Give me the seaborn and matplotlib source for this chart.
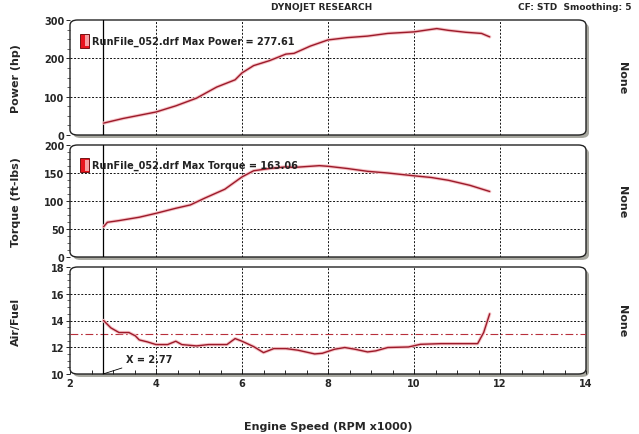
import numpy as np
import pandas as pd
import matplotlib
matplotlib.use("Agg")
import matplotlib.pyplot as plt
import seaborn as sns
from matplotlib.patches import FancyBboxPatch, Rectangle
from matplotlib.ticker import MultipleLocator

# ---------------- data ----------------
power_rpm = [2.78, 3.23, 4.0, 4.46, 4.94, 5.41, 5.84, 6.0, 6.27, 6.64, 7.02, 7.21, 7.59,
             8.0, 8.45, 8.92, 9.39, 10.0, 10.53, 10.8, 11.2, 11.57, 11.76]
power_hp = [31, 43, 60, 76, 96, 125, 144, 162, 181, 194, 211, 213, 232,
            248, 254, 258, 265, 269, 277.6, 273, 268, 265, 256]

torque_rpm = [2.78, 2.87, 3.14, 3.61, 4.0, 4.46, 4.8, 5.13, 5.6, 6.0, 6.27, 6.64, 7.02,
              7.21, 7.8, 8.0, 8.45, 8.92, 9.39, 10.0, 10.4, 10.8, 11.3, 11.76]
torque_ftlb = [54, 62, 65, 71, 78, 87, 93, 105, 121, 143, 154, 158, 161,
               160, 163.1, 162, 158, 153, 150, 145, 142, 137, 128, 117]

afr_rpm = [2.78, 2.95, 3.14, 3.37, 3.52, 3.61, 3.8, 4.0, 4.27, 4.46, 4.6, 4.94, 5.22,
           5.65, 5.84, 6.0, 6.27, 6.5, 6.74, 7.02, 7.3, 7.69, 7.87, 8.15, 8.39, 8.63,
           8.92, 9.11, 9.39, 9.87, 10.15, 10.63, 11.48, 11.62, 11.76]
afr = [14.0, 13.45, 13.1, 13.1, 12.85, 12.55, 12.4, 12.2, 12.2, 12.45, 12.2, 12.1, 12.2,
       12.2, 12.65, 12.45, 12.05, 11.6, 11.9, 11.9, 11.78, 11.5, 11.55, 11.85, 11.98, 11.85,
       11.65, 11.73, 11.98, 12.02, 12.22, 12.27, 12.27, 13.1, 14.5]

afr_target = 13.0
cursor_x = 2.77
max_power = 277.61
max_torque = 163.06

x_ticks = [2, 4, 6, 8, 10, 12, 14]
power_ticks = [0, 100, 200, 300]
torque_ticks = [0, 50, 100, 150, 200]
afr_ticks = [10, 12, 14, 16, 18]

run_name = "RunFile_052.drf"
title = "DYNOJET RESEARCH"
subtitle = "CF: STD  Smoothing: 5"
xlabel = "Engine Speed (RPM x1000)"

# ---------------- style ----------------
sns.set_style("white")
plt.rcParams['font.family'] = ['DejaVu Sans']

W, H = 639, 435
fig = plt.figure(figsize=(W / 100, H / 100), dpi=100)
fig.patch.set_facecolor("white")

def fx(px):
    return px / W

def fy(py):
    return 1 - py / H

left_px, right_px = 70, 586
panels = [(21, 136), (146, 258), (268, 375)]

line_col = "#9c1a2a"
glow_col = "#f6c4c8"
grid_ls = (0, (2, 1.7))

axes = []
for (top, bot) in panels:
    sh = FancyBboxPatch((fx(left_px) + fx(3), fy(bot) - 3 / H),
                        fx(right_px - left_px), (bot - top) / H,
                        boxstyle="round,pad=0,rounding_size=0.012",
                        transform=fig.transFigure, facecolor="#a8a8a0",
                        edgecolor="none", zorder=-2)
    fig.patches.append(sh)
    fr = FancyBboxPatch((fx(left_px), fy(bot)), fx(right_px - left_px), (bot - top) / H,
                        boxstyle="round,pad=0,rounding_size=0.012",
                        transform=fig.transFigure, facecolor="white",
                        edgecolor="#222222", linewidth=1.0, zorder=-1)
    fig.patches.append(fr)
    ax = fig.add_axes([fx(left_px), fy(bot), fx(right_px - left_px), (bot - top) / H])
    ax.set_zorder(1)
    ax.patch.set_alpha(0)
    for s in ax.spines.values():
        s.set_visible(False)
    ax.set_xlim(2, 14)
    axes.append(ax)

ax1, ax2, ax3 = axes

def style_axis(ax, yticks, ylabel, last=False):
    ax.set_ylim(yticks[0], yticks[-1])
    ax.set_yticks(yticks)
    ax.set_yticklabels([str(t) for t in yticks], fontsize=7, fontweight="bold")
    for yv in yticks[1:-1]:
        ax.axhline(yv, color="#111111", linestyle=grid_ls, linewidth=0.7, zorder=1)
    for xv in x_ticks[1:-1]:
        ax.axvline(xv, color="#111111", linestyle=grid_ls, linewidth=0.7, zorder=1)
    ax.axvline(cursor_x, color="black", linewidth=0.9, zorder=2)
    ax.tick_params(axis="y", direction="out", length=3, width=0.7, pad=1, left=True)
    ax.yaxis.set_minor_locator(MultipleLocator((yticks[1] - yticks[0]) / 4))
    ax.tick_params(axis="y", which="minor", direction="out", length=2, width=0.5, left=True)
    ax.set_ylabel(ylabel, fontsize=8, fontweight="bold")
    ax.yaxis.set_label_coords(-0.095, 0.5)
    if last:
        ax.set_xticks(x_ticks)
        ax.set_xticklabels([str(t) for t in x_ticks], fontsize=7, fontweight="bold")
        ax.xaxis.set_minor_locator(MultipleLocator(0.5))
        ax.tick_params(axis="x", which="both", direction="in", length=3, width=0.7,
                       pad=3, bottom=True)
        ax.set_xlabel(xlabel, fontsize=8, fontweight="bold", labelpad=24)
    else:
        ax.set_xticks([])
        ax.set_xlabel("")
    ax.text(1.07, 0.5, "None", transform=ax.transAxes, rotation=270,
            fontsize=8, fontweight="bold", ha="center", va="center")

def draw_curve(ax, xs, ys):
    df = pd.DataFrame({"x": xs, "y": ys})
    sns.lineplot(data=df, x="x", y="y", ax=ax, color=glow_col, linewidth=2.4,
                 sort=False, zorder=3)
    sns.lineplot(data=df, x="x", y="y", ax=ax, color=line_col, linewidth=1.0,
                 sort=False, zorder=4)

draw_curve(ax1, power_rpm, power_hp)
draw_curve(ax2, torque_rpm, torque_ftlb)
draw_curve(ax3, afr_rpm, afr)
ax3.axhline(afr_target, color="#b8303c", linestyle=(0, (7, 2.5, 1.5, 2.5)),
            linewidth=0.8, zorder=2)

style_axis(ax1, power_ticks, "Power (hp)")
style_axis(ax2, torque_ticks, "Torque (ft-lbs)")
style_axis(ax3, afr_ticks, "Air/Fuel", last=True)

for ax, txt in [(ax1, f"{run_name} Max Power = {max_power:.2f}"),
                (ax2, f"{run_name} Max Torque = {max_torque:.2f}")]:
    ax.add_patch(Rectangle((0.019, 0.76), 0.018, 0.12, transform=ax.transAxes,
                           facecolor="#e8141e", edgecolor="#600000", linewidth=0.6,
                           zorder=5))
    ax.add_patch(Rectangle((0.029, 0.77), 0.007, 0.10, transform=ax.transAxes,
                           facecolor="#f7a0a4", edgecolor="none", zorder=6))
    ax.text(0.043, 0.82, txt, transform=ax.transAxes, fontsize=7,
            fontweight="bold", color="#222222", ha="left", va="center", zorder=6)

ax3.annotate(f"X = {cursor_x:.2f}", xy=(cursor_x, 10), xytext=(3.3, 11.1),
             fontsize=7, fontweight="bold", color="#222222", ha="left", va="center",
             arrowprops=dict(arrowstyle="-", color="black", linewidth=0.6,
                             shrinkA=1, shrinkB=0))

fig.text(fx(322), fy(8), title, fontsize=6.5, fontweight="bold", ha="center", va="center")
fig.text(fx(632), fy(8), subtitle, fontsize=6.5, fontweight="bold", ha="right", va="center")

fig.savefig("out.png", dpi=100, facecolor="white")
